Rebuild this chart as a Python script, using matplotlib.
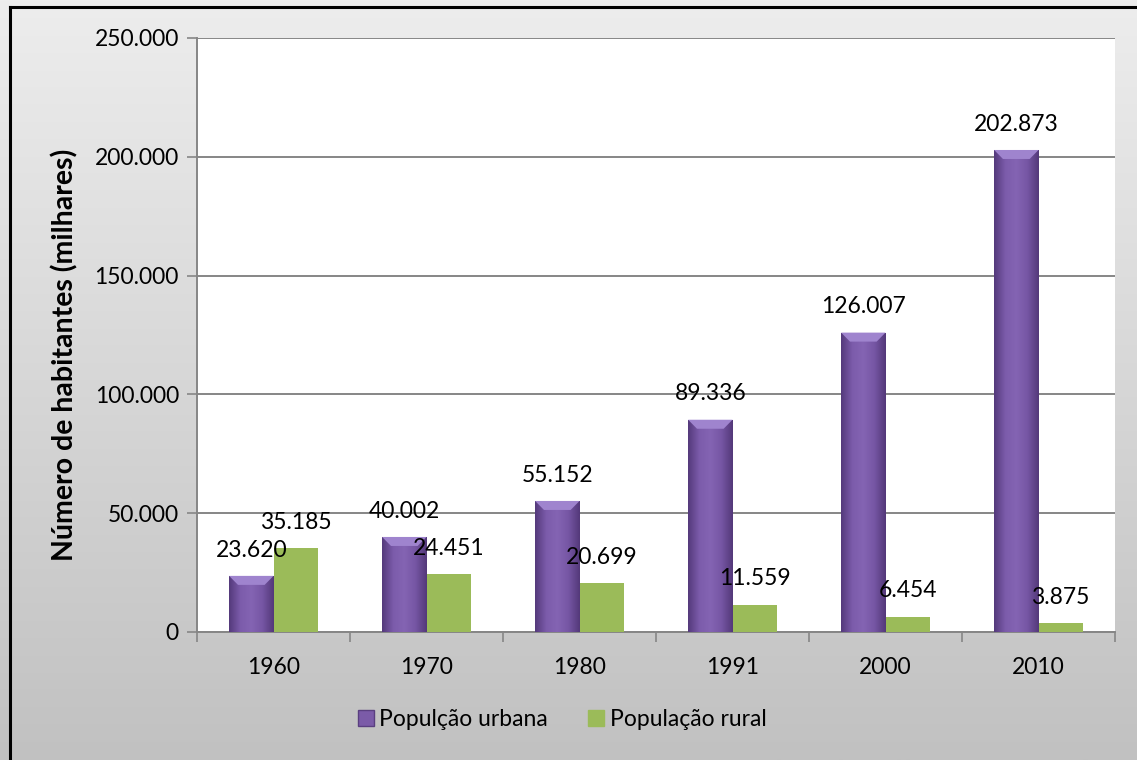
import numpy as np
import matplotlib
matplotlib.use("Agg")
import matplotlib.pyplot as plt
from matplotlib.patches import Polygon
from matplotlib.lines import Line2D
from matplotlib.colors import LinearSegmentedColormap

anos = ["1960", "1970", "1980", "1991", "2000", "2010"]
urbana = [23620, 40002, 55152, 89336, 126007, 202873]
rural = [35185, 24451, 20699, 11559, 6454, 3875]
nomes = ["Populção urbana", "População rural"]
yticks = [0, 50000, 100000, 150000, 200000, 250000]

ROXO = "#7b5ba8"
VERDE = "#9bbb59"
CINZA = "#868686"
FS = 16.5

plt.rcParams["font.family"] = ["Lato", "DejaVu Sans"]


def fmt(v):
    return "{:,}".format(v).replace(",", ".")


fig = plt.figure(figsize=(11.37, 7.6), dpi=100)

# figure background: vertical grey gradient + black border top/left
bg = fig.add_axes([0, 0, 1, 1], zorder=-10)
grad = np.linspace(0, 1, 256).reshape(-1, 1)
bg_cmap = LinearSegmentedColormap.from_list("bg", ["#ededed", "#c1c1c1"])
bg.imshow(grad, aspect="auto", cmap=bg_cmap, extent=[0, 1, 0, 1])
bg.plot([10 / 1137, 10 / 1137], [0, 1 - 7 / 760], color="black", lw=2.2)
bg.plot([10 / 1137, 1], [1 - 7 / 760, 1 - 7 / 760], color="black", lw=2.2)
bg.set_xlim(0, 1)
bg.set_ylim(0, 1)
bg.axis("off")

ax = fig.add_axes([197 / 1137, 1 - 632 / 760, 918 / 1137, 594 / 760])
ax.set_facecolor("white")

x = np.arange(len(anos))
w = 0.29
ymax = 250000

b1 = ax.bar(x - w / 2, urbana, w, color=ROXO, zorder=3, label=nomes[0])
b2 = ax.bar(x + w / 2, rural, w, color=VERDE, zorder=3, label=nomes[1])

# bevel-like shading on purple bars
bar_cmap = LinearSegmentedColormap.from_list(
    "roxo", ["#553a7c", "#7c5cab", "#8464b3", "#7656a4", "#54397a"])
hgrad = np.linspace(0, 1, 64).reshape(1, -1)
cap = ymax * 9 / 594
for rect in b1:
    x0 = rect.get_x()
    x1 = x0 + rect.get_width()
    h = rect.get_height()
    im = ax.imshow(hgrad, aspect="auto", cmap=bar_cmap,
                   extent=[x0, x1, 0, h], zorder=4)
    im.set_clip_path(rect)
    inset = rect.get_width() * 0.2
    ax.add_patch(Polygon([[x0, h], [x1, h], [x1 - inset, h - cap],
                          [x0 + inset, h - cap]],
                         closed=True, color="#9f84ce", zorder=5, lw=0))

for rect, v in zip(b1, urbana):
    ax.annotate(fmt(v), (rect.get_x() + rect.get_width() / 2, v),
                xytext=(0, 11), textcoords="offset points",
                ha="center", va="bottom", fontsize=FS, zorder=6)
for rect, v in zip(b2, rural):
    ax.annotate(fmt(v), (rect.get_x() + rect.get_width() / 2, v),
                xytext=(0, 11), textcoords="offset points",
                ha="center", va="bottom", fontsize=FS, zorder=6)

ax.set_xlim(-0.5, len(anos) - 0.5)
ax.set_ylim(0, ymax)
ax.set_yticks(yticks)
ax.set_yticklabels([fmt(v) for v in yticks], fontsize=FS)
ax.set_xticks(x)
ax.set_xticklabels(anos, fontsize=FS)
ax.tick_params(axis="x", length=0, pad=18)
ax.tick_params(axis="y", length=7, width=1.2, color=CINZA, pad=6)
ax.set_xticks(np.arange(-0.5, len(anos), 1), minor=True)
ax.tick_params(axis="x", which="minor", length=7, width=1.2, color=CINZA)
ax.grid(axis="y", color=CINZA, lw=1.4, zorder=0)
ax.set_axisbelow(True)
for s in ["top", "right"]:
    ax.spines[s].set_visible(False)
for s in ["left", "bottom"]:
    ax.spines[s].set_color(CINZA)
    ax.spines[s].set_linewidth(1.4)

ax.set_ylabel("Número de habitantes (milhares)", fontsize=20.5,
              fontweight="bold")
ax.yaxis.set_label_coords(-0.129, 0.466)

handles = [
    Line2D([], [], marker="s", ls="", markersize=12, markerfacecolor=ROXO,
           markeredgecolor="#5a3f80"),
    Line2D([], [], marker="s", ls="", markersize=12, markerfacecolor=VERDE,
           markeredgecolor=VERDE),
]
fig.legend(handles, nomes, loc="center", bbox_to_anchor=(0.493, 0.053),
           ncol=2, frameon=False, fontsize=FS, handletextpad=0.1,
           columnspacing=1.6, handlelength=1.0)

fig.savefig("out.png", dpi=100)
